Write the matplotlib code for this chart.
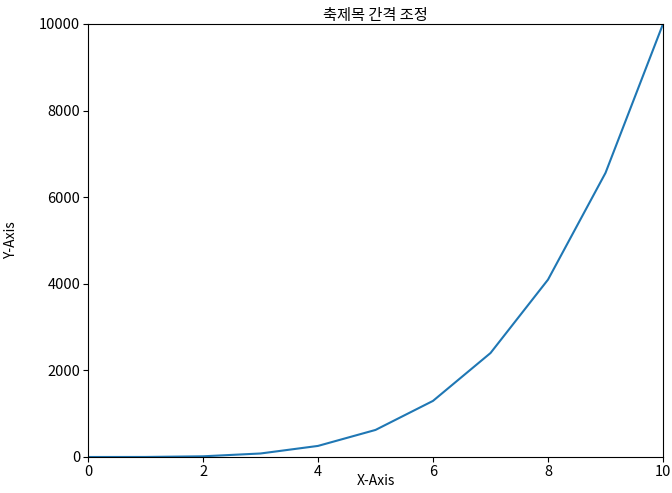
import matplotlib
matplotlib.use("Agg")
import matplotlib.pyplot as plt

plt.rcParams['font.family'] = ['Noto Sans CJK KR', 'DejaVu Sans']
plt.rcParams['axes.unicode_minus'] = False

x = [0, 1, 2, 3, 4, 5, 6, 7, 8, 9, 10]
y = [0, 1, 16, 81, 256, 625, 1296, 2401, 4096, 6561, 10000]

fig = plt.figure(figsize=(6.72, 4.93), dpi=100)
ax = fig.add_axes([88/672, 1-457/493, (663-88)/672, (457-24)/493])
ax.plot(x, y, color='#1f77b4')
ax.set_xlim(0, 10)
ax.set_ylim(0, 10000)
ax.tick_params(labelsize=10.5, pad=2)
ax.set_title('축제목 간격 조정', fontsize=11, pad=3)
ax.set_xlabel('X-Axis', fontsize=10, labelpad=-3)
ax.set_ylabel('Y-Axis', fontsize=10, labelpad=15)
fig.savefig('out.png', dpi=100)
